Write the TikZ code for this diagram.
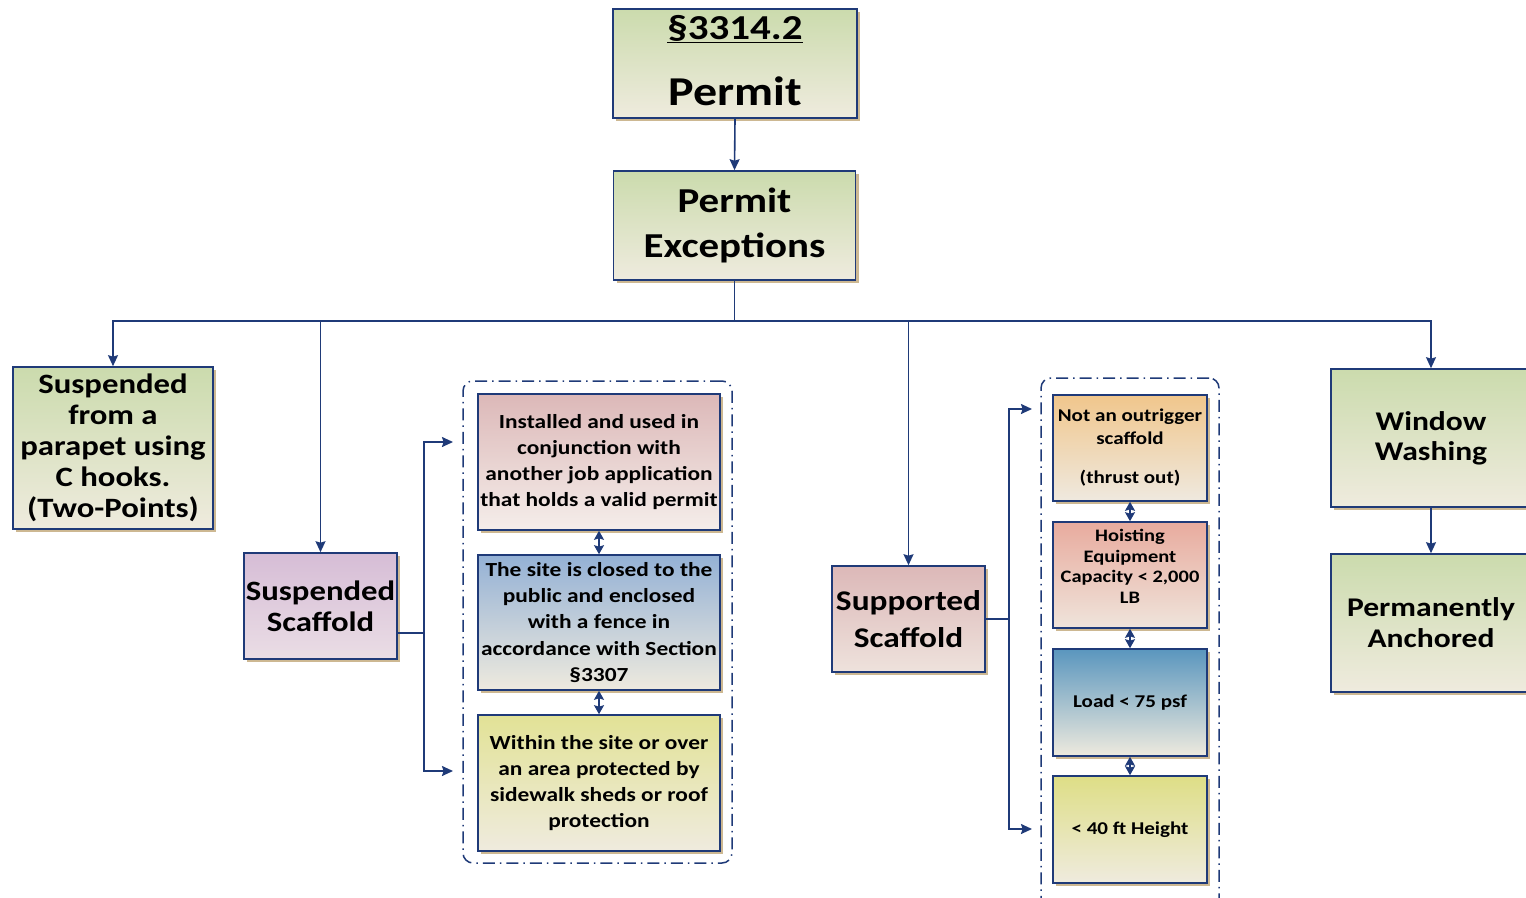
\documentclass[tikz,border=0pt]{standalone}
\usepackage{fontspec}
\setmainfont{Carlito}[FakeStretch=1.17]
\usetikzlibrary{arrows.meta,shadows}
\definecolor{navy}{HTML}{1F3A78}
\definecolor{tansh}{HTML}{CDB892}
\definecolor{gTop}{HTML}{CBDBAD}
\definecolor{gBot}{HTML}{EFEBDE}
\definecolor{purTop}{HTML}{D6BDD6}
\definecolor{purBot}{HTML}{EADDE5}
\definecolor{pinkTop}{HTML}{DCB8B8}
\definecolor{pinkBot}{HTML}{EEE2DC}
\definecolor{bluTop}{HTML}{94B1D5}
\definecolor{bluBot}{HTML}{EEEADE}
\definecolor{yelTop}{HTML}{E2E296}
\definecolor{yelBot}{HTML}{EFEBDE}
\definecolor{orTop}{HTML}{F0C68C}
\definecolor{orBot}{HTML}{EFE9DF}
\definecolor{salTop}{HTML}{E8AB9E}
\definecolor{salBot}{HTML}{EFE4DB}
\definecolor{dbTop}{HTML}{5A96BE}
\definecolor{dbBot}{HTML}{EEEADE}
\definecolor{dyTop}{HTML}{DEDE86}
\definecolor{dyBot}{HTML}{EFEBDE}
\tikzset{
  box/.style={draw=navy, line width=1.6pt, align=center, inner sep=1pt,
    drop shadow={shadow xshift=3pt, shadow yshift=-3pt, fill=tansh, opacity=1}},
  conn/.style={draw=navy, line width=1.6pt},
  arr/.style={conn, -{Stealth[length=11pt,width=10pt,inset=1.5pt]}},
  darr/.style={conn, {Stealth[length=9pt,width=10pt,inset=1.5pt]}-{Stealth[length=9pt,width=10pt,inset=1.5pt]}},
  lshadow/.style={draw=tansh, line width=1.6pt, shift={(1.8,1.8)}},
  groupbox/.style={draw=navy, line width=1.5pt, dash pattern=on 12pt off 5pt on 1.5pt off 5pt, rounded corners=10pt},
  fA/.style={font=\bfseries\fontsize{28}{31}\selectfont},
  fB/.style={font=\bfseries\fontsize{20}{26.3}\selectfont},
  fC/.style={font=\bfseries\fontsize{18}{21}\selectfont},
}
\begin{document}
\begin{tikzpicture}[x=1pt,y=-1pt]
\useasboundingbox (0,0) rectangle (1526,897);
% top
\node[box, minimum width=244pt, minimum height=109pt, top color=gTop, bottom color=gBot] (perm) at (735,63.5) {};
\node[font=\bfseries\fontsize{35}{35}\selectfont, anchor=base, inner sep=0pt] (permnum) at (735,39) {\underline{§3314.2}};
\node[font=\bfseries\fontsize{41}{41}\selectfont, anchor=base, inner sep=0pt] (permlbl) at (735,105) {Permit};
\node[box, minimum width=242pt, minimum height=109pt, top color=gTop, bottom color=gBot,
  font=\bfseries\fontsize{35}{45}\selectfont] (exc) at (734.5,225.5) {Permit\\Exceptions};
% level 2
\node[box, fA, minimum width=200pt, minimum height=162pt, top color=gTop, bottom color=gBot] (parapet) at (113,448)
  {Suspended\\from a\\parapet using\\C hooks.\\(Two-Points)};
\node[box, fA, minimum width=153pt, minimum height=106pt, top color=purTop, bottom color=purBot] (susp) at (320.5,606)
  {Suspended\\Scaffold};
\node[box, font=\bfseries\fontsize{28.5}{37}\selectfont, minimum width=153pt, minimum height=106pt, top color=pinkTop, bottom color=pinkBot] (supp) at (908.5,619)
  {Supported\\Scaffold};
\node[box, font=\bfseries\fontsize{27}{30}\selectfont, minimum width=200pt, minimum height=138pt, top color=gTop, bottom color=gBot] (wash) at (1431,438)
  {Window\\Washing};
\node[box, font=\bfseries\fontsize{27}{31}\selectfont, minimum width=200pt, minimum height=138pt, top color=gTop, bottom color=gBot] (anch) at (1431,623)
  {Permanently\\Anchored};
% groups
\node[groupbox, minimum width=269pt, minimum height=482pt] (grpA) at (597.5,622) {};
\node[groupbox, minimum width=178pt, minimum height=532pt] (grpB) at (1130,644) {};
% group A boxes
\node[box, fB, minimum width=242pt, minimum height=136pt, top color=pinkTop, bottom color=pinkBot!60!white] (ba) at (599,462)
  {Installed and used in\\conjunction with\\another job application\\that holds a valid permit};
\node[box, fB, minimum width=242pt, minimum height=135pt, top color=bluTop, bottom color=bluBot] (bb) at (599,622.5)
  {The site is closed to the\\public and enclosed\\with a fence in\\accordance with Section\\§3307};
\node[box, fB, minimum width=242pt, minimum height=136pt, top color=yelTop, bottom color=yelBot] (bc) at (599,783)
  {Within the site or over\\an area protected by\\sidewalk sheds or roof\\protection};
% group B boxes
\node[box, font=\bfseries\fontsize{18}{22.5}\selectfont, minimum width=154pt, minimum height=106pt, top color=orTop, bottom color=orBot] (ra) at (1130,448)
  {Not an outrigger\\scaffold\\[17pt](thrust out)};
\node[box, font=\bfseries\fontsize{17.5}{20.5}\selectfont, minimum width=154pt, minimum height=106pt, top color=salTop, bottom color=salBot] (rb) at (1130,575)
  {Hoisting\\Equipment\\Capacity < 2,000\\LB\\[-3pt]\mbox{}};
\node[box, fC, minimum width=154pt, minimum height=107pt, top color=dbTop, bottom color=dbBot] (rc) at (1130,702.5)
  {Load < 75 psf};
\node[box, fC, minimum width=154pt, minimum height=107pt, top color=dyTop, bottom color=dyBot] (rd) at (1130,829.5)
  {< 40 ft Height};
% connector coordinates
\coordinate (bus) at (734.5,321);
\coordinate (sj) at (424,633);
\coordinate (sa) at (453,442);
\coordinate (sb) at (453,771);
\coordinate (tj) at (1009,619);
\coordinate (ta) at (1032,409);
\coordinate (tb) at (1032,829);
% connector shadows
\draw[lshadow] (susp.east |- sj) -- (sj);
\draw[lshadow] (sj |- sa) -- (sj |- sb) -- ([xshift=-6pt]sb);
\draw[lshadow] (sj |- sa) -- ([xshift=-6pt]sa);
\draw[lshadow] (supp.east) -- (tj);
\draw[lshadow] (tj |- ta) -- (tj |- tb) -- ([xshift=-6pt]tb);
\draw[lshadow] (tj |- ta) -- ([xshift=-6pt]ta);
% connectors
\draw[arr] (perm.south) -- (exc.north);
\draw[conn] (exc.south) -- (bus);
\draw[arr] (bus) -| (parapet.north);
\draw[arr] (bus) -| (susp.north);
\draw[arr] (bus) -| (supp.north);
\draw[arr] (bus) -| (wash.north);
\draw[arr] (wash.south) -- (anch.north);
\draw[conn] (susp.east |- sj) -- (sj);
\draw[arr] (sj) |- (sa);
\draw[arr] (sj) |- (sb);
\draw[conn] (supp.east) -- (tj);
\draw[arr] (tj) |- (ta);
\draw[arr] (tj) |- (tb);
% double arrows
\draw[darr] (ba.south) -- (bb.north);
\draw[darr] (bb.south) -- (bc.north);
\draw[darr] (ra.south) -- (rb.north);
\draw[darr] (rb.south) -- (rc.north);
\draw[darr] (rc.south) -- (rd.north);
\end{tikzpicture}
\end{document}
